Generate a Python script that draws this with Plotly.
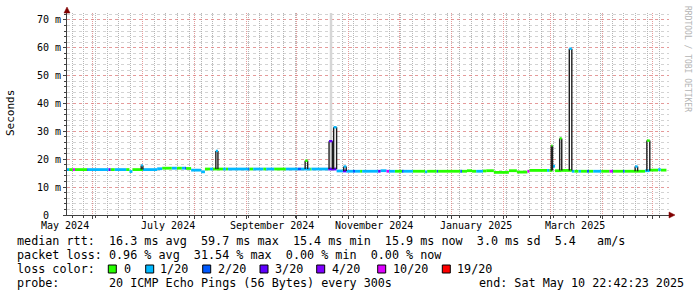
import plotly.graph_objects as go

# ---------------- data ----------------
X_START = "2024-05-17 00:00"
X_END = "2025-05-10 22:42:23"

loss_labels = ["0", "1/20", "2/20", "3/20", "4/20", "10/20", "19/20"]
loss_colors = ["#26ff00", "#00b8ff", "#0059ff", "#5e00ff", "#7e00ff", "#dd00ff", "#ff0000"]

# median rtt (ms) as run-length segments, colour = loss bucket index
seg_start = [
    "2024-05-17 00:00", "2024-05-18 06:00", "2024-05-20 12:00", "2024-05-21 18:00",
    "2024-05-29 00:00", "2024-05-29 12:00", "2024-06-10 18:00", "2024-06-12 00:00",
    "2024-06-14 12:00", "2024-06-21 06:00", "2024-06-23 06:00", "2024-06-25 00:00",
    "2024-07-01 06:00", "2024-07-09 18:00", "2024-07-12 18:00", "2024-07-18 12:00",
    "2024-07-21 12:00", "2024-07-24 12:00", "2024-07-26 06:00", "2024-07-27 00:00",
    "2024-07-30 00:00", "2024-08-05 00:00", "2024-08-07 06:00", "2024-08-10 06:00",
    "2024-08-12 00:00", "2024-08-18 00:00", "2024-08-19 18:00", "2024-08-21 00:00",
    "2024-09-02 00:00", "2024-09-02 18:00", "2024-09-05 00:00", "2024-09-11 00:00",
    "2024-09-12 18:00", "2024-09-17 12:00", "2024-09-24 12:00", "2024-10-01 18:00",
    "2024-10-03 12:00", "2024-10-09 00:00", "2024-10-09 18:00", "2024-10-19 18:00",
    "2024-10-24 18:00", "2024-10-28 12:00", "2024-10-30 12:00", "2024-11-03 12:00",
    "2024-11-04 18:00", "2024-11-07 18:00", "2024-11-09 00:00", "2024-11-18 12:00",
    "2024-11-20 00:00", "2024-11-23 12:00", "2024-11-25 00:00", "2024-11-28 12:00",
    "2024-12-02 18:00", "2024-12-03 18:00", "2024-12-09 06:00", "2024-12-16 12:00",
    "2024-12-17 18:00", "2024-12-23 12:00", "2024-12-24 06:00", "2025-01-06 12:00",
    "2025-01-07 12:00", "2025-01-10 12:00", "2025-01-13 12:00", "2025-01-16 00:00",
    "2025-01-20 00:00", "2025-01-22 00:00", "2025-01-26 12:00", "2025-02-04 12:00",
    "2025-02-09 06:00", "2025-02-15 12:00", "2025-02-16 18:00", "2025-02-27 06:00",
    "2025-02-28 12:00", "2025-03-02 12:00", "2025-03-04 00:00", "2025-03-08 00:00",
    "2025-03-14 00:00", "2025-03-15 12:00", "2025-03-18 00:00", "2025-03-19 12:00",
    "2025-03-23 00:00", "2025-03-24 06:00", "2025-03-26 18:00", "2025-03-31 12:00",
    "2025-04-05 12:00", "2025-04-07 00:00", "2025-04-07 12:00", "2025-04-13 12:00",
    "2025-04-14 12:00", "2025-04-26 18:00", "2025-04-29 12:00", "2025-05-04 12:00",
    "2025-05-06 00:00",
]
seg_last_end = "2025-05-09 10:00"
seg_ms = [
    16.3, 16.3, 16.3, 16.3,
    16.3, 16.3, 16.3, 16.3,
    16.3, 16.3, 15.6, 16.3,
    16.3, 16.6, 16.8, 16.8,
    16.8, 16.8, 16.8, 16.7,
    16.1, 15.5, 16.5, 16.5,
    16.5, 16.5, 16.5, 16.5,
    16.5, 16.5, 16.5, 16.5,
    16.5, 16.5, 16.5, 16.5,
    16.5, 16.5, 16.5, 16.5,
    15.8, 15.8, 15.7, 15.7,
    15.7, 15.7, 15.7, 15.7,
    15.9, 15.7, 15.7, 15.7,
    15.7, 15.7, 15.7, 15.5,
    15.7, 15.7, 15.7, 15.7,
    15.7, 15.9, 15.7, 15.7,
    15.8, 15.9, 15.3, 15.9,
    15.4, 15.7, 16.0, 16.0,
    16.0, 17.5, 15.9, 16.0,
    15.7, 15.7, 15.7, 15.7,
    15.7, 15.7, 15.7, 15.7,
    15.7, 15.7, 15.7, 15.7,
    15.7, 15.9, 16.1, 16.3,
    16.1,
]
seg_loss = [
    1, 0, 5, 0,
    2, 1, 3, 0,
    1, 0, 1, 0,
    1, 1, 0, 1,
    0, 1, 2, 0,
    1, 1, 0, 1,
    0, 1, 0, 1,
    2, 0, 1, 0,
    1, 0, 1, 2,
    1, 0, 1, 3,
    1, 3, 1, 2,
    1, 0, 1, 3,
    1, 5, 1, 0,
    2, 1, 0, 1,
    0, 2, 0, 2,
    0, 0, 0, 1,
    0, 0, 0, 0,
    0, 5, 0, 1,
    0, 1, 0, 0,
    1, 0, 1, 0,
    2, 0, 1, 0,
    5, 3, 0, 2,
    0, 1, 0, 1,
    0,
]

# latency spikes
spike_start = ["2024-06-30 06:00", "2024-08-13 18:00", "2024-10-06 00:00", "2024-10-20 06:00",
               "2024-10-23 00:00", "2024-10-29 00:00", "2025-03-01 18:00", "2025-03-06 18:00",
               "2025-03-12 12:00", "2025-04-20 18:00", "2025-04-27 18:00"]
spike_end = ["2024-07-01 06:00", "2024-08-15 00:00", "2024-10-07 12:00", "2024-10-22 06:00",
             "2024-10-24 18:00", "2024-10-30 12:00", "2025-03-02 12:00", "2025-03-08 00:00",
             "2025-03-14 00:00", "2025-04-22 06:00", "2025-04-29 12:00"]
spike_top = [17.8, 23.0, 19.5, 26.5, 31.5, 17.4, 24.9, 27.5, 59.7, 17.4, 26.7]
spike_base = [16.3, 16.5, 16.5, 16.5, 16.5, 15.8, 16.0, 16.0, 16.0, 15.7, 15.9]
spike_loss = [1, 1, 0, 3, 1, 1, 0, 0, 1, 1, 0]

# smoke (ping spread) reaching above the chart
smoke_time = ["2024-10-21 10:00"]
smoke_lo = [17.0]
smoke_hi = [80.0]

y_tick_alias = {"0": "0\u00a0\u00a0", "10": "10 m", "20": "20 m", "30": "30 m",
                "40": "40 m", "50": "50 m", "60": "60 m", "70": "70 m"}

x_label_dates = ["2024-05-16", "2024-07-16", "2024-09-16", "2024-11-16", "2025-01-16", "2025-03-16"]
x_label_text = ["May 2024", "July 2024", "September 2024", "November 2024", "January 2025", "March 2025"]

stat_rtt = "median rtt:  16.3 ms avg  59.7 ms max  15.4 ms min  15.9 ms now  3.0 ms sd  5.4   am/s"
stat_loss = "packet loss: 0.96 % avg  31.54 % max  0.00 % min  0.00 % now"
probe_text = "probe:       20 ICMP Echo Pings (56 Bytes) every 300s"
end_text = "end: Sat May 10 22:42:23 2025"

# ---------------- layout helpers ----------------
W, H = 697, 297
L, R, T, B = 67, 669, 13, 215
MONO = "DejaVu Sans Mono"


def px(x):
    return (x - L) / (R - L)


def py(y):
    return (B - y) / (B - T)


def nb(s):
    return s.replace(" ", "\u00a0")


def seg_end(i):
    return seg_start[i + 1] if i + 1 < len(seg_start) else seg_last_end


fig = go.Figure()

for t, lo, hi in zip(smoke_time, smoke_lo, smoke_hi):
    fig.add_trace(go.Scatter(x=[t, t], y=[lo, hi], mode="lines",
                             line=dict(color="#d6d6d6", width=2.5),
                             hoverinfo="skip", showlegend=False))

for c, col in enumerate(loss_colors):
    xs, ys = [], []
    for i in range(len(seg_start)):
        if seg_loss[i] == c:
            xs += [seg_start[i], seg_end(i), None]
            ys += [seg_ms[i], seg_ms[i], None]
    if xs:
        fig.add_trace(go.Scatter(x=xs, y=ys, mode="lines",
                                 line=dict(color=col, width=2.8),
                                 hoverinfo="skip", showlegend=False))

xs, ys = [], []
for s, e, b, t in zip(spike_start, spike_end, spike_base, spike_top):
    xs += [s, s, None, e, e, None]
    ys += [b, t, None, t, b, None]
fig.add_trace(go.Scatter(x=xs, y=ys, mode="lines",
                         line=dict(color="#1e1e1e", width=1.4),
                         hoverinfo="skip", showlegend=False))

for s, e, t, l in zip(spike_start, spike_end, spike_top, spike_loss):
    fig.add_trace(go.Scatter(x=[s, e], y=[t, t], mode="lines",
                             line=dict(color=loss_colors[l], width=2.4),
                             hoverinfo="skip", showlegend=False))

MAJ = "rgba(220,120,120,0.75)"
MIN_X = "rgba(150,150,150,0.7)"
MIN_Y = "rgba(175,175,175,0.55)"
AX = "#404040"

fig.update_layout(
    width=W, height=H,
    margin=dict(l=L, r=W - R, t=T, b=H - B, pad=0),
    paper_bgcolor="white", plot_bgcolor="white",
    showlegend=False,
    font=dict(family=MONO, size=10, color="black"),
    xaxis=dict(
        type="date", range=[X_START, X_END],
        tickmode="linear", tick0="2024-06-01", dtick="M1",
        showticklabels=False,
        showgrid=True, gridcolor=MAJ, griddash="1px,1px", gridwidth=1,
        ticks="outside", ticklen=3, tickcolor=AX,
        minor=dict(tickmode="linear", tick0="2024-05-20", dtick=7 * 86400000,
                   showgrid=True, gridcolor=MIN_X, griddash="1px,1px", gridwidth=1,
                   ticks="outside", ticklen=2, tickcolor=AX),
        showline=True, linecolor=AX, linewidth=1,
        zeroline=False, fixedrange=True,
    ),
    yaxis=dict(
        range=[0, 72.5],
        tickmode="linear", tick0=0, dtick=10, labelalias=y_tick_alias,
        tickfont=dict(family=MONO, size=10, color="black"),
        showgrid=True, gridcolor=MAJ, griddash="dot", gridwidth=1,
        ticks="outside", ticklen=3, tickcolor=AX,
        minor=dict(tickmode="linear", tick0=0, dtick=2,
                   showgrid=True, gridcolor=MIN_Y, griddash="dot", gridwidth=1,
                   ticks="outside", ticklen=2, tickcolor=AX),
        showline=True, linecolor=AX, linewidth=1,
        zeroline=False, fixedrange=True,
    ),
)

ann = []
for d, txt in zip(x_label_dates, x_label_text):
    shift = 0
    xd = d
    if d < X_START:
        xd = X_START
        shift = -1.7
    ann.append(dict(x=xd, xref="x", xshift=shift, y=py(225), yref="paper", text=nb(txt),
                    showarrow=False, xanchor="center", yanchor="middle",
                    font=dict(family=MONO, size=10, color="black")))

ann.append(dict(x=px(10), y=py(113), xref="paper", yref="paper", text="Seconds",
                textangle=-90, showarrow=False, xanchor="center", yanchor="middle",
                font=dict(family=MONO, size=11, color="black")))
ann.append(dict(x=px(687), y=py(59), xref="paper", yref="paper",
                text=nb("RRDTOOL / TOBI OETIKER"), textangle=90, showarrow=False,
                xanchor="center", yanchor="middle",
                font=dict(family=MONO, size=8, color="#b4b4b4")))

LF = dict(family=MONO, size=11.75, color="black")
for txt, yy in [(stat_rtt, 241), (stat_loss, 255), (probe_text, 283)]:
    ann.append(dict(x=px(15), y=py(yy), xref="paper", yref="paper", text=nb(txt),
                    showarrow=False, xanchor="left", yanchor="middle", font=LF))
ann.append(dict(x=px(15), y=py(269), xref="paper", yref="paper", text=nb("loss color:"),
                showarrow=False, xanchor="left", yanchor="middle", font=LF))
ann.append(dict(x=px(477), y=py(283), xref="paper", yref="paper", text=nb(end_text),
                showarrow=False, xanchor="left", yanchor="middle", font=LF))

box_x = [108.3, 145.7, 202.7, 260, 316.7, 377.7, 442.3]
lab_x = [122, 158.3, 215.7, 273, 329.7, 390.7, 455]
shapes = []
for i, (bx, lx) in enumerate(zip(box_x, lab_x)):
    shapes.append(dict(type="rect", xref="paper", yref="paper",
                       x0=px(bx), x1=px(bx + 8), y0=py(273), y1=py(265),
                       fillcolor=loss_colors[i], line=dict(color="black", width=1)))
    ann.append(dict(x=px(lx), y=py(269), xref="paper", yref="paper", text=nb(loss_labels[i]),
                    showarrow=False, xanchor="left", yanchor="middle", font=LF))

ARROW = "#800000"
shapes.append(dict(type="line", xref="paper", yref="paper", x0=px(669), x1=px(670),
                   y0=0, y1=0, line=dict(color=AX, width=1)))
shapes.append(dict(type="path", xref="paper", yref="paper",
                   path=f"M {px(669)},{py(212)} L {px(675)},{py(215)} L {px(669)},{py(218)} Z",
                   fillcolor=ARROW, line=dict(color=ARROW, width=0.5)))
shapes.append(dict(type="path", xref="paper", yref="paper",
                   path=f"M {px(64)},{py(13)} L {px(67)},{py(7)} L {px(70)},{py(13)} Z",
                   fillcolor=ARROW, line=dict(color=ARROW, width=0.5)))

fig.update_layout(annotations=ann, shapes=shapes)

fig.write_html("out.html")
